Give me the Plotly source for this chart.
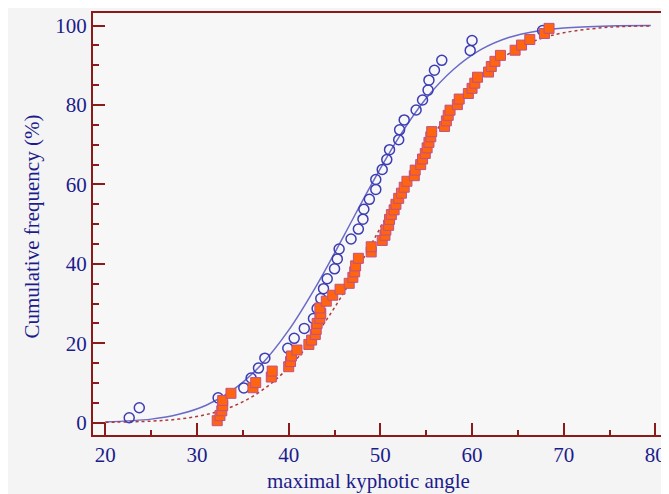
import plotly.graph_objects as go

# Observed cumulative frequencies (group 1: open circles)
circle_x = [22.6, 23.7, 32.3, 35.1, 35.9, 36.7, 37.4, 39.9, 40.6, 41.7,
            42.7, 43.1, 43.5, 43.8, 44.2, 45.0, 45.3, 45.5, 46.8, 47.6,
            48.1, 48.2, 48.8, 49.5, 49.5, 50.2, 50.7, 51.0, 52.0, 52.1,
            52.6, 53.9, 54.6, 55.2, 55.3, 55.9, 56.7, 59.8, 60.0, 67.7]
circle_y = [1.25, 3.75, 6.25, 8.75, 11.25, 13.75, 16.25, 18.75, 21.25, 23.75,
            26.25, 28.75, 31.25, 33.75, 36.25, 38.75, 41.25, 43.75, 46.25, 48.75,
            51.25, 53.75, 56.25, 58.75, 61.25, 63.75, 66.25, 68.75, 71.25, 73.75,
            76.25, 78.75, 81.25, 83.75, 86.25, 88.75, 91.25, 93.75, 96.25, 98.75]

# Observed cumulative frequencies (group 2: filled squares)
square_x = [32.2, 32.5, 32.7, 32.8, 32.8, 33.7, 36.1, 36.4, 38.1, 38.2,
            40.0, 40.2, 40.3, 40.9, 42.2, 42.5, 42.9, 43.0, 43.1, 43.4,
            43.5, 43.4, 44.1, 44.8, 45.6, 46.6, 47.0, 47.2, 47.3, 47.6,
            49.0, 49.0, 50.2, 50.5, 50.6, 50.9, 51.0, 51.2, 51.5, 51.7,
            52.0, 52.3, 52.6, 52.9, 53.7, 53.8, 54.4, 54.6, 54.9, 55.1,
            55.3, 55.5, 55.6, 57.0, 57.2, 57.4, 57.6, 58.4, 58.6, 59.6,
            60.0, 60.3, 60.6, 61.8, 62.1, 62.5, 63.1, 64.7, 65.4, 66.3,
            67.9, 68.4]
square_y = [0.5, 1.8, 3.0, 4.3, 5.6, 7.4, 8.8, 10.1, 11.5, 13.0,
            14.1, 15.4, 16.8, 18.3, 19.7, 20.8, 22.2, 23.5, 25.0, 26.3,
            27.5, 28.9, 30.6, 32.1, 33.6, 35.1, 36.6, 38.0, 39.5, 41.4,
            43.0, 44.3, 45.9, 47.2, 48.5, 49.7, 51.2, 52.4, 53.6, 55.0,
            56.5, 57.8, 59.3, 60.8, 62.2, 63.6, 65.0, 66.4, 67.8, 69.2,
            70.6, 72.0, 73.3, 74.6, 76.0, 77.4, 78.7, 80.1, 81.5, 82.9,
            84.2, 85.5, 87.0, 88.3, 89.7, 91.0, 92.5, 93.8, 95.1, 96.5,
            98.0, 99.3]

# Fitted curves
curve_x = [20, 25, 28, 31, 34, 37, 40, 43, 46, 49, 52, 55, 58, 61, 64, 67, 70, 75, 79.5]
fit1_y = [0.2, 0.9, 2.1, 4.4, 8.4, 14.6, 23.3, 34.4, 47.0, 59.9,
          71.8, 81.7, 89.0, 94.0, 97.0, 98.6, 99.4, 99.9, 100.0]
fit2_y = [0.1, 0.4, 0.9, 2.05, 4.2, 8.0, 13.9, 22.2, 32.7, 44.9,
          57.6, 69.5, 79.7, 87.5, 92.9, 96.3, 98.2, 99.6, 99.9]

x_ticks = [20, 30, 40, 50, 60, 70, 80]
y_ticks = [0, 20, 40, 60, 80, 100]

AXIS = "#8b1a1a"
TEXT = "#1c1c8c"
FONT = "Liberation Serif, Times New Roman, serif"

fig = go.Figure()
fig.add_trace(go.Scatter(x=curve_x, y=fit1_y, mode="lines", line_shape="spline",
                         line=dict(color="#6a6ac8", width=1.5), hoverinfo="skip"))
fig.add_trace(go.Scatter(x=curve_x, y=fit2_y, mode="lines", line_shape="spline",
                         line=dict(color="#b03a3a", width=1.5, dash="dot"), hoverinfo="skip"))
fig.add_trace(go.Scatter(x=circle_x, y=circle_y, mode="markers",
                         marker=dict(symbol="circle-open", size=10, color="#3c3cb4",
                                     line=dict(width=1.5))))
fig.add_trace(go.Scatter(x=square_x, y=square_y, mode="markers",
                         marker=dict(symbol="square", size=10, color="#ff640f",
                                     line=dict(color="#c0508a", width=1))))

fig.update_layout(
    width=661, height=486,
    margin=dict(l=85, r=1, t=5, b=59),
    paper_bgcolor="#f4f4f4",
    plot_bgcolor="#f7f7f7",
    showlegend=False,
    font=dict(family=FONT, size=21, color=TEXT),
    annotations=[
        dict(text="maximal kyphotic angle", xref="paper", yref="paper",
             x=0.48, y=0, yshift=-46, xanchor="center", yanchor="middle",
             showarrow=False, font=dict(family=FONT, size=21, color=TEXT)),
        dict(text="Cumulative frequency (%)", xref="paper", yref="paper",
             x=0, xshift=-61, y=0.494, textangle=-90, xanchor="center", yanchor="middle",
             showarrow=False, font=dict(family=FONT, size=21, color=TEXT)),
    ],
)
fig.update_xaxes(
    range=[18.65, 81.16], tickvals=x_ticks, ticktext=[str(v) for v in x_ticks],
    showgrid=False, zeroline=False,
    showline=True, linecolor=AXIS, linewidth=2, mirror=True,
    ticks="inside", ticklen=12, tickwidth=2, tickcolor=AXIS,
    minor=dict(dtick=5, tick0=0, ticks="inside", ticklen=5, tickwidth=1.5, tickcolor=AXIS, showgrid=False),
    tickfont=dict(family=FONT, size=21, color=TEXT),
)
fig.update_yaxes(
    range=[-3.1, 103.17], tickvals=y_ticks, ticktext=[str(v) for v in y_ticks],
    showgrid=False, zeroline=False,
    showline=True, linecolor=AXIS, linewidth=2, mirror=True,
    ticks="inside", ticklen=12, tickwidth=2, tickcolor=AXIS,
    minor=dict(dtick=5, tick0=0, ticks="inside", ticklen=6, tickwidth=1.5, tickcolor=AXIS, showgrid=False),
    tickfont=dict(family=FONT, size=21, color=TEXT),
)

fig.write_html("out.html")
